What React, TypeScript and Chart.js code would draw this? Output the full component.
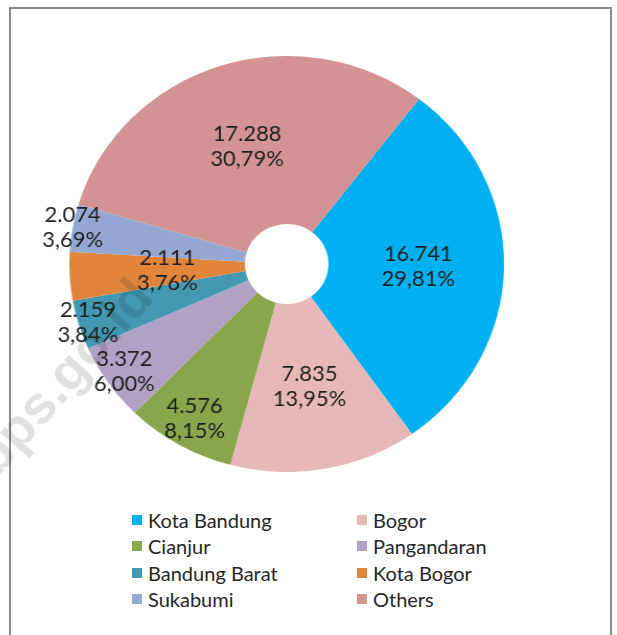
import React, { useEffect, useRef } from 'react';
import { Chart, registerables } from 'chart.js';

Chart.register(...registerables);

const categories = ['Kota Bandung', 'Bogor', 'Cianjur', 'Pangandaran', 'Bandung Barat', 'Kota Bogor', 'Sukabumi', 'Others'];
const values = [16741, 7835, 4576, 3372, 2159, 2111, 2074, 17288];
const colors = ['#00B0F0', '#E6B9B8', '#8AA64C', '#B2A1C7', '#4399B2', '#E0853B', '#94A8D2', '#D29392'];
// label distance from centre as a fraction of the outer radius
const labelRadius = [0.605, 0.6, 0.854, 0.91, 0.957, 0.55, 1.0, 0.593];

const STRETCH = 1.045;
const CANVAS_W = 520;
const CANVAS_H = 416;

function fmtValue(v: number): string {
  return String(v).replace(/\B(?=(\d{3})+(?!\d))/g, '.');
}
function fmtPct(v: number, total: number): string {
  return ((v / total) * 100).toFixed(2).replace('.', ',') + '%';
}

const labelPlugin = {
  id: 'sliceLabels',
  afterDatasetsDraw(chart: any) {
    const ctx = chart.ctx;
    const meta = chart.getDatasetMeta(0);
    const data = chart.data.datasets[0].data as number[];
    const total = data.reduce((a, b) => a + b, 0);
    ctx.save();
    ctx.font = '21px Lato';
    ctx.fillStyle = '#1f1f1f';
    ctx.textAlign = 'center';
    ctx.textBaseline = 'middle';
    meta.data.forEach((arc: any, i: number) => {
      const p = arc.getProps(['x', 'y', 'startAngle', 'endAngle', 'outerRadius'], true);
      const mid = (p.startAngle + p.endAngle) / 2;
      const r = p.outerRadius * labelRadius[i];
      const x = p.x + Math.cos(mid) * r;
      const y = p.y + Math.sin(mid) * r;
      ctx.fillText(fmtValue(data[i]), x, y - 12.5);
      ctx.fillText(fmtPct(data[i], total), x, y + 12.5);
    });
    ctx.restore();
  },
};

export default function App() {
  const ref = useRef<HTMLCanvasElement>(null);

  useEffect(() => {
    if (!ref.current) return;
    const chart = new Chart(ref.current, {
      type: 'doughnut',
      data: {
        labels: categories,
        datasets: [
          {
            data: values,
            backgroundColor: colors,
            borderWidth: 0,
            hoverOffset: 0,
            offset: 0,
            spacing: 0,
          },
        ],
      },
      options: {
        responsive: false,
        maintainAspectRatio: false,
        animation: false,
        rotation: 37.5,
        cutout: 40,
        layout: { padding: 0 },
        plugins: {
          legend: { display: false },
          tooltip: { enabled: false },
        },
      },
      plugins: [labelPlugin],
    } as any);
    return () => chart.destroy();
  }, []);

  return (
    <div style={{ position: 'absolute', left: 0, top: 0, width: 617, height: 635, overflow: 'hidden', background: '#fff' }}>
      <div
        style={{
          position: 'absolute',
          left: 9,
          top: 7,
          width: 599,
          height: 640,
          border: '2px solid #8a8a8a',
          borderBottom: 'none',
        }}
      />
      <canvas
        ref={ref}
        width={CANVAS_W}
        height={CANVAS_H}
        style={{
          position: 'absolute',
          left: 14.8,
          top: 56,
          width: CANVAS_W,
          height: CANVAS_H,
          transform: `scaleX(${STRETCH})`,
          transformOrigin: '0 0',
        }}
      />
      <div
        style={{
          position: 'absolute',
          left: 62,
          top: 376,
          transform: 'translate(-50%, -50%) rotate(-48.5deg)',
          fontFamily: '"Liberation Sans", Arial, sans-serif',
          fontWeight: 'bold',
          fontSize: 54,
          color: 'rgba(0,0,0,0.12)',
          whiteSpace: 'nowrap',
          pointerEvents: 'none',
        }}
      >
        bps.go.id
      </div>
      <div
        style={{
          position: 'absolute',
          left: 132,
          top: 507,
          display: 'grid',
          gridTemplateColumns: '225px auto',
          gridAutoRows: '26.3px',
          fontFamily: 'Lato, sans-serif',
          fontSize: 20,
          color: '#262626',
        }}
      >
        {categories.map((c, i) => (
          <div key={c} style={{ display: 'flex', alignItems: 'center', whiteSpace: 'nowrap' }}>
            <span style={{ display: 'inline-block', width: 10, height: 10, background: colors[i], marginRight: 6 }} />
            <span>{c}</span>
          </div>
        ))}
      </div>
    </div>
  );
}
